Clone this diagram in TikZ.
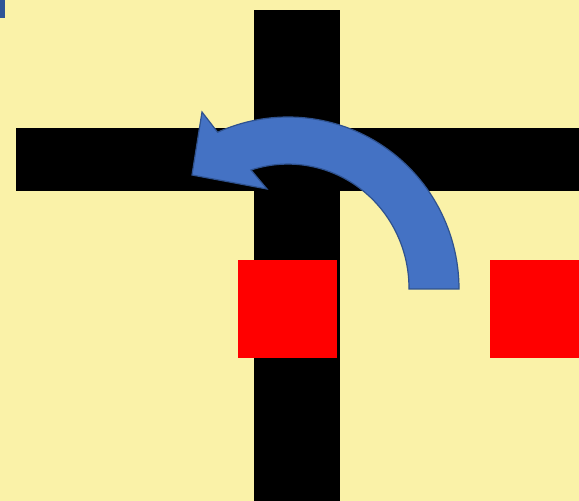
\documentclass[tikz,border=0pt]{standalone}
\usetikzlibrary{positioning}
\definecolor{fondo}{RGB}{250,242,168}
\definecolor{azul}{RGB}{68,114,196}
\definecolor{azulborde}{RGB}{47,82,143}
\definecolor{azulmarca}{RGB}{47,85,151}
\begin{document}
\begin{tikzpicture}[
        x=1pt, y=1pt,
        barra/.style={fill=black, draw=none},
        cuadro/.style={fill=red, draw=none},
        flecha/.style={fill=azul, draw=azulborde, line width=1.2pt, line join=miter}
    ]

    % Fondo
    \fill[fondo] (0,0) rectangle (579,501);
    \useasboundingbox (0,0) rectangle (579,501);
    \fill[azulmarca] (0,483) rectangle (5,501);

    % Barras
    \path[barra] (254,0) rectangle (340,491);
    \path[barra] (16,310) rectangle (579,373);

    % Cuadros
    \path[cuadro] (238,143) rectangle (337,241);
    \path[cuadro] (490,143) rectangle (579,241);

    % Flecha
    \draw[flecha] (409,212) -- (459,212)
        arc[start angle=0, end angle=114.3, x radius=171, y radius=172]
        -- (202,389) -- (192,326) -- (267,312) -- (251,331)
        arc[start angle=107.8, end angle=0, x radius=121, y radius=124]
        -- cycle;

\end{tikzpicture}
\end{document}
